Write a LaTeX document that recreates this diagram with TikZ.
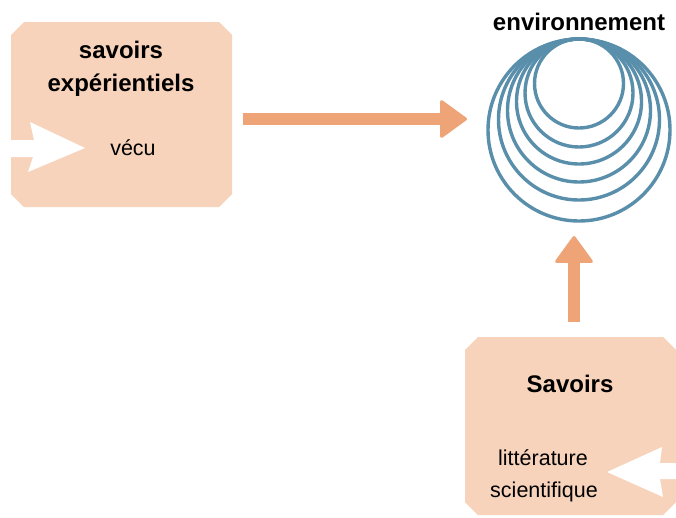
\documentclass[tikz,border=0pt]{standalone}
\usepackage{fontspec}
\setmainfont{Liberation Sans}
\usetikzlibrary{arrows.meta}
\definecolor{peach}{HTML}{F7D3BB}
\definecolor{orng}{HTML}{EEA476}
\definecolor{ringblue}{HTML}{5A8FAC}
\tikzset{
  boxstyle/.style={rectangle, draw=none, fill=none, inner sep=0pt, outer sep=0pt},
  chamfill/.style={fill=peach, draw=none},
  titletext/.style={font=\bfseries\fontsize{24}{28}\selectfont, inner sep=0pt},
  bodytext/.style={font=\fontsize{21.5}{25}\selectfont, inner sep=0pt},
  ring/.style={draw=ringblue, line width=3.4pt},
  bigarrow/.style={draw=orng, line width=12pt,
    -{Triangle[length=28pt,width=40pt,line width=3pt,round]}},
  inarrow/.style={fill=white, draw=none}
}
\newcommand{\chamferbox}[2]{%
  \fill[chamfill] ([xshift=#2]#1.north west) -- ([xshift=-#2]#1.north east)
    -- ([yshift=-#2]#1.north east) -- ([yshift=#2]#1.south east)
    -- ([xshift=-#2]#1.south east) -- ([xshift=#2]#1.south west)
    -- ([yshift=#2]#1.south west) -- ([yshift=-#2]#1.north west) -- cycle;}
\begin{document}
\begin{tikzpicture}[x=1pt,y=-1pt]
\useasboundingbox[fill=white] (0,0) rectangle (676,517);
% boxes
\node[boxstyle, minimum width=221pt, minimum height=185pt] (box1) at (121.5,114.5) {};
\node[boxstyle, minimum width=211pt, minimum height=178pt] (box2) at (570.5,426) {};
\chamferbox{box1}{13pt}
\chamferbox{box2}{13pt}
% white input arrows
\fill[inarrow] (-2,140) -- (34,140) -- (30,122) -- (85,148) -- (28,172) -- (33,157) -- (-2,157) -- cycle;
\fill[inarrow] (680,463) -- (660,463) -- (662,447) -- (607,472) -- (663,497) -- (660,479) -- (680,479) -- cycle;
% texts
\node[titletext, anchor=base] (t1a) at (121,58) {savoirs};
\node[titletext, anchor=base] (t1b) at (121,91) {expérientiels};
\node[bodytext, anchor=base] (vecu) at (133,155) {vécu};
\node[titletext, anchor=base] (t2) at (570,392) {Savoirs};
\node[bodytext, anchor=base] (lit) at (543,465) {littérature};
\node[bodytext, anchor=base] (sci) at (544,497) {scientifique};
\node[titletext, anchor=base] (envlabel) at (579,30) {environnement};
% rings
\foreach \r in {44.5,54,62.5,71.5,80.5}
  \draw[ring] (579,{39+\r}) circle[radius=\r pt];
\node[circle, ring, minimum size=182pt, inner sep=0pt, outer sep=0pt] (env) at (579,130) {};
% orange arrows
\draw[bigarrow, shorten <=11pt, shorten >=21pt]
  ([yshift=-4.5pt]box1.east) -- ([yshift=-4.5pt]box1.east -| env.west);
\draw[bigarrow, shorten <=15pt, shorten >=15pt]
  ([xshift=3.5pt]box2.north) -- ([xshift=3.5pt]box2.north |- env.south);
\end{tikzpicture}
\end{document}
